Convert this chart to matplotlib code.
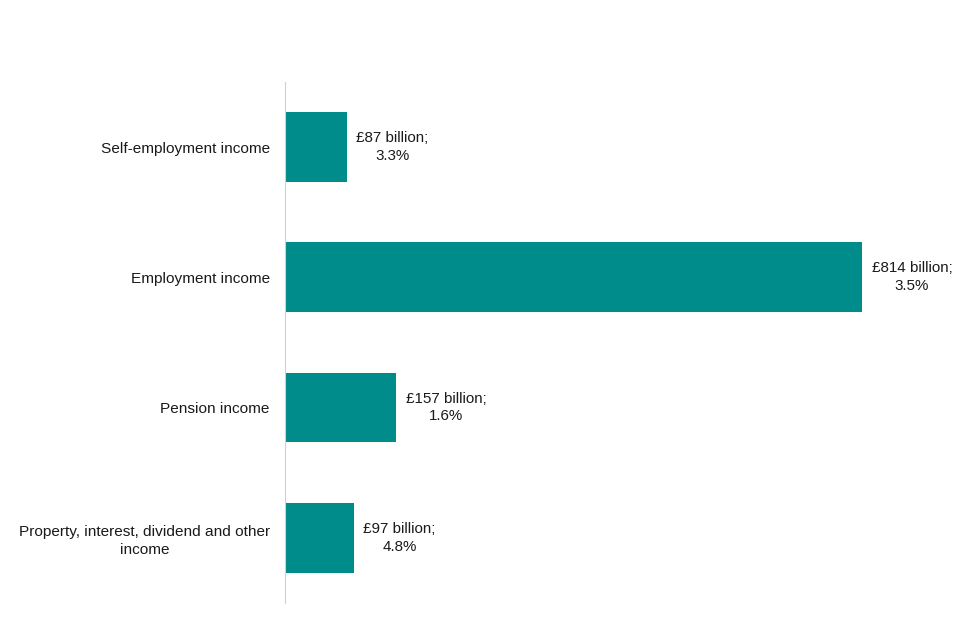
import matplotlib.pyplot as plt

plt.rcParams['font.family'] = ['Liberation Sans', 'DejaVu Sans']

# Data
categories = ["Self-employment income", "Employment income", "Pension income",
              "Property, interest, dividend and other\nincome"]
values = [87, 814, 157, 97]
growth = ["3.3%", "3.5%", "1.6%", "4.8%"]

fig = plt.figure(figsize=(9.6, 6.4), dpi=100)
ax = fig.add_axes([0.297, 0.058, 0.653, 0.814])

y = list(range(len(categories)))
ax.barh(y, values, height=0.535, color="#008C8A")

for yi, v, g in zip(y, values, growth):
    ax.text(v + 13, yi, f"£{v} billion;\n{g}", ha="left", va="center",
            multialignment="center", fontsize=10.9, color="#1a1a1a",
            linespacing=1.35)

ax.set_yticks(y)
ax.set_yticklabels(categories, fontsize=11.1, color="#1a1a1a",
                   multialignment="center", linespacing=1.3)
ax.tick_params(axis="y", length=0, pad=11)
ax.set_xticks([])
ax.set_xlim(0, 884)
ax.set_ylim(len(categories) - 0.5, -0.5)

for s in ["top", "right", "bottom"]:
    ax.spines[s].set_visible(False)
ax.spines["left"].set_color("#d0d0d0")

fig.savefig("out.png", dpi=100)
